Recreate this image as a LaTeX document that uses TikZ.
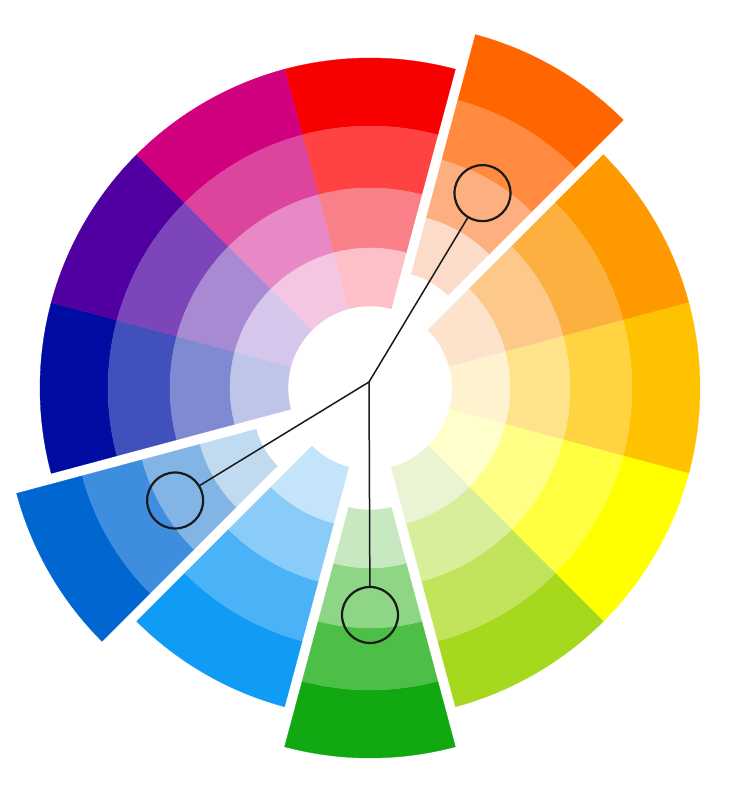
\documentclass[tikz,border=0pt]{standalone}

\definecolor{rd1}{HTML}{F80000}\definecolor{rd2}{HTML}{FF4242}\definecolor{rd3}{HTML}{F98088}\definecolor{rd4}{HTML}{FDC0C6}
\definecolor{or1}{HTML}{FF6600}\definecolor{or2}{HTML}{FF8A40}\definecolor{or3}{HTML}{FDAF80}\definecolor{or4}{HTML}{FCDCC8}
\definecolor{am1}{HTML}{FF9900}\definecolor{am2}{HTML}{FCB040}\definecolor{am3}{HTML}{FDC98A}\definecolor{am4}{HTML}{FDE3CB}
\definecolor{yo1}{HTML}{FFC200}\definecolor{yo2}{HTML}{FFD440}\definecolor{yo3}{HTML}{FFE38A}\definecolor{yo4}{HTML}{FFF3CF}
\definecolor{ye1}{HTML}{FFFF00}\definecolor{ye2}{HTML}{FFFF40}\definecolor{ye3}{HTML}{FFFF85}\definecolor{ye4}{HTML}{FFFFCC}
\definecolor{li1}{HTML}{A6D91E}\definecolor{li2}{HTML}{C2E45C}\definecolor{li3}{HTML}{D9EE9A}\definecolor{li4}{HTML}{EAF3D4}
\definecolor{gr1}{HTML}{12A812}\definecolor{gr2}{HTML}{4EBF46}\definecolor{gr3}{HTML}{8ED586}\definecolor{gr4}{HTML}{C8E8C2}
\definecolor{az1}{HTML}{109CF4}\definecolor{az2}{HTML}{4AB2F6}\definecolor{az3}{HTML}{8ACCF8}\definecolor{az4}{HTML}{C4E4FA}
\definecolor{bl1}{HTML}{0066D0}\definecolor{bl2}{HTML}{3F8DDF}\definecolor{bl3}{HTML}{82B4E6}\definecolor{bl4}{HTML}{C0DAF0}
\definecolor{nv1}{HTML}{000CA2}\definecolor{nv2}{HTML}{4150BD}\definecolor{nv3}{HTML}{7F8AD2}\definecolor{nv4}{HTML}{BFC5E8}
\definecolor{vi1}{HTML}{5000A0}\definecolor{vi2}{HTML}{7C45BA}\definecolor{vi3}{HTML}{A88AD2}\definecolor{vi4}{HTML}{D6C6EB}
\definecolor{mg1}{HTML}{D0007F}\definecolor{mg2}{HTML}{DD449E}\definecolor{mg3}{HTML}{E888C4}\definecolor{mg4}{HTML}{F4C6E2}

% one 30 degree slice: mid angle, push out, colours from rim to centre
\newcommand{\colorwedge}[6]{%
  \foreach \ri/\ro/\cc in {262/330/#3, 200/262/#4, 140/200/#5, 82/140/#6}
    \fill[fill=\cc, draw=\cc, line width=0.3pt, shift={(#1:#2)}] ({#1-15}:\ro) arc[start angle={#1-15}, end angle={#1+15}, radius=\ro]
      -- ({#1+15}:\ri) arc[start angle={#1+15}, end angle={#1-15}, radius=\ri] -- cycle;}

\begin{document}
\begin{tikzpicture}[x=1pt, y=1pt, pick node/.style={circle,draw=black!90,line width=2.2pt,minimum size=56pt,inner sep=0pt}]%
  \useasboundingbox (-370,-404) rectangle (365,388);

  \colorwedge{90}{0}{rd1}{rd2}{rd3}{rd4}
  \colorwedge{60}{40}{or1}{or2}{or3}{or4}
  \colorwedge{30}{0}{am1}{am2}{am3}{am4}
  \colorwedge{0}{0}{yo1}{yo2}{yo3}{yo4}
  \colorwedge{-30}{0}{ye1}{ye2}{ye3}{ye4}
  \colorwedge{-60}{0}{li1}{li2}{li3}{li4}
  \colorwedge{-90}{40}{gr1}{gr2}{gr3}{gr4}
  \colorwedge{-120}{0}{az1}{az2}{az3}{az4}
  \colorwedge{-150}{40}{bl1}{bl2}{bl3}{bl4}
  \colorwedge{180}{0}{nv1}{nv2}{nv3}{nv4}
  \colorwedge{150}{0}{vi1}{vi2}{vi3}{vi4}
  \colorwedge{120}{0}{mg1}{mg2}{mg3}{mg4}

  \coordinate (hub) at (-1,6);
  \node[pick node] (p1) at (60:225) {};
  \node[pick node] (p2) at (-150:225) {};
  \node[pick node] (p3) at (0,-227) {};
  \draw[line width=1.5pt, black!90] (hub) -- (p1);
  \draw[line width=1.5pt, black!90] (hub) -- (p2);
  \draw[line width=1.5pt, black!90] (hub) -- (p3);
\end{tikzpicture}
\end{document}
